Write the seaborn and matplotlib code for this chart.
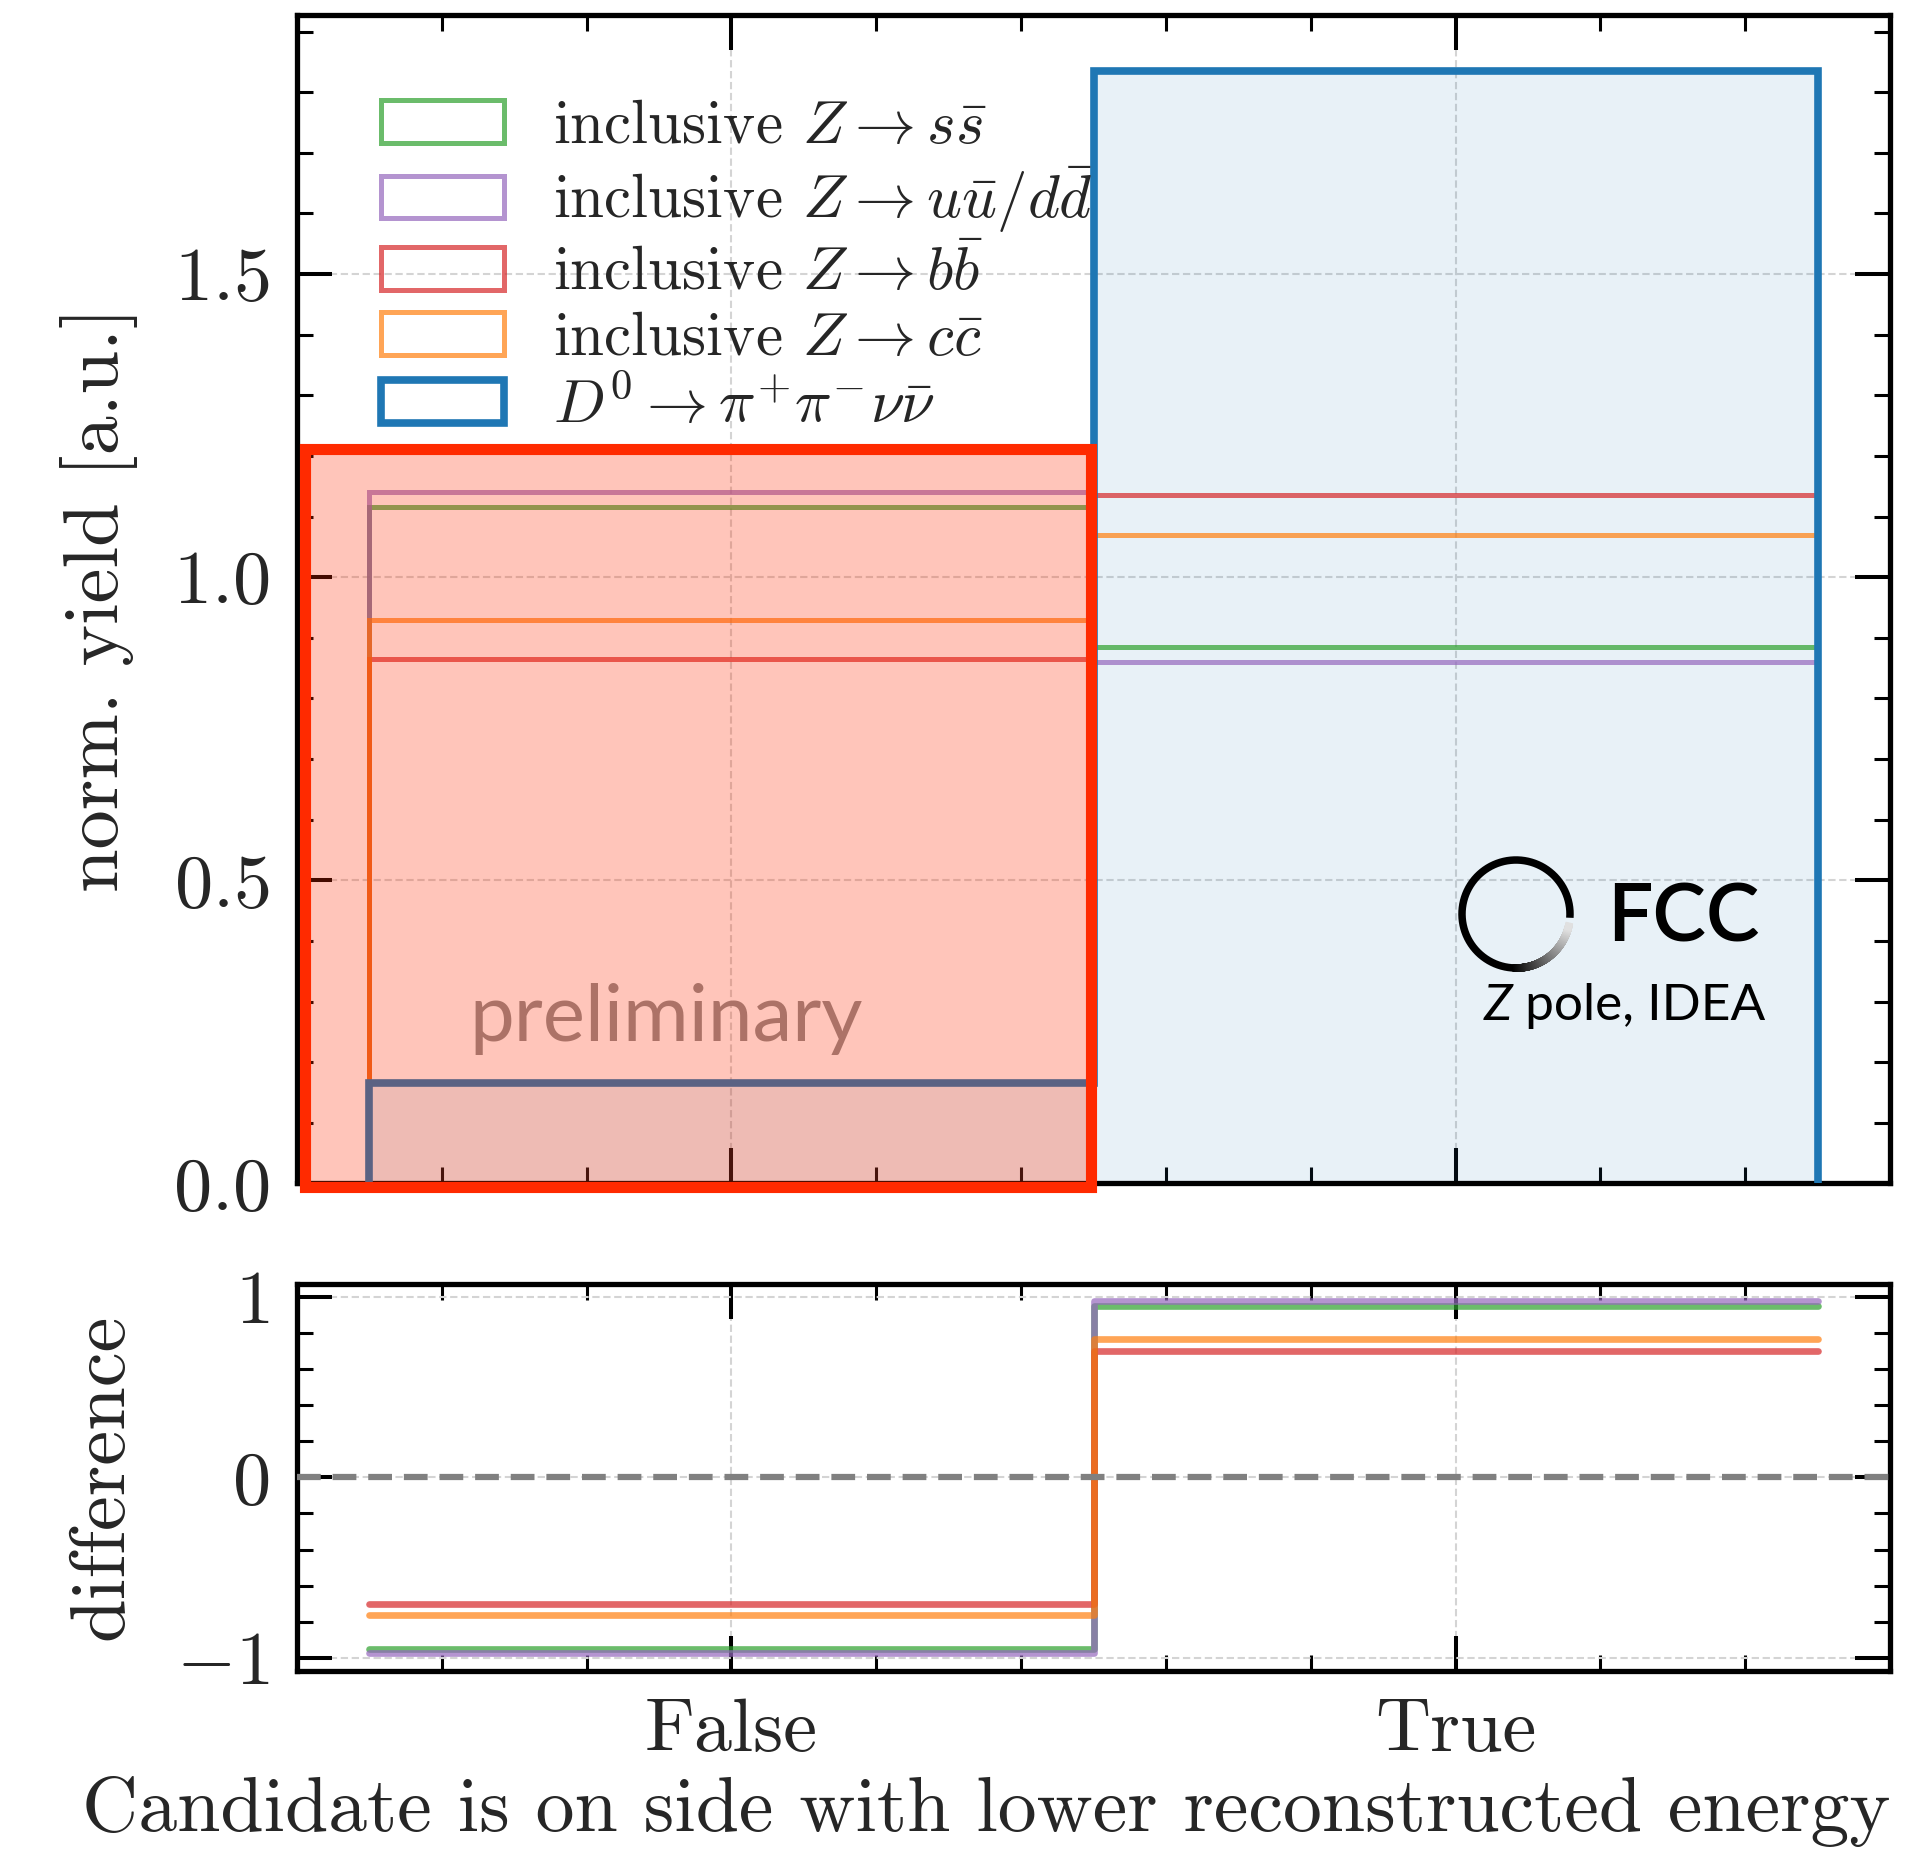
import numpy as np
import matplotlib
matplotlib.use("Agg")
import matplotlib.pyplot as plt
import seaborn as sns
from matplotlib.patches import Patch, Rectangle
from matplotlib.ticker import MultipleLocator, FixedLocator
from matplotlib.colors import to_rgba
from matplotlib.collections import LineCollection

# ---------------- data ----------------
categories = ["False", "True"]
bin_centers = [0, 1]
bin_edges = [-0.5, 0.5, 1.5]

yield_ss = [1.115, 0.885]
yield_uudd = [1.14, 0.86]
yield_bb = [0.865, 1.135]
yield_cc = [0.93, 1.07]
yield_signal = [0.165, 1.835]

bkg_labels = [r"inclusive $Z \rightarrow s\bar{s}$",
              r"inclusive $Z \rightarrow u\bar{u}/d\bar{d}$",
              r"inclusive $Z \rightarrow b\bar{b}$",
              r"inclusive $Z \rightarrow c\bar{c}$"]
signal_label = r"$D^0 \rightarrow \pi^{+}\pi^{-}\nu\bar{\nu}$"
bkg_colors = ["tab:green", "tab:purple", "tab:red", "tab:orange"]
signal_color = "tab:blue"

bkg_yields = [yield_ss, yield_uudd, yield_bb, yield_cc]
diffs = [list(np.array(yield_signal) - np.array(b)) for b in bkg_yields]

# ---------------- style ----------------
sns.set_theme(style="ticks")
plt.rcParams.update({
    "font.family": "serif",
    "font.serif": ["cmr10"],
    "mathtext.fontset": "cm",
    "axes.formatter.use_mathtext": True,
    "axes.linewidth": 3.8,
    "axes.edgecolor": "black",
})

FS = 55
LAB_FS = 56.5
XLAB_FS = 56
LEG_FS = 44

fig = plt.figure(figsize=(19.31, 18.54), dpi=100)
ax1 = fig.add_axes([0.1538, 0.3617, 0.825, 0.630])
ax2 = fig.add_axes([0.1538, 0.0987, 0.825, 0.209])

# ---------------- top panel ----------------
for vals, c in zip(bkg_yields, bkg_colors):
    ax1.stairs(vals, bin_edges, color=c, alpha=0.7, lw=3.6, baseline=0, zorder=3)
ax1.stairs(yield_signal, bin_edges, fill=True, color=signal_color, alpha=0.1, lw=0, zorder=2)
ax1.stairs(yield_signal, bin_edges, color=signal_color, lw=5.5, baseline=0, zorder=4)

ax1.set_xlim(-0.6, 1.6)
ax1.set_ylim(0, 1.05 * max(yield_signal))
ax1.xaxis.set_major_locator(FixedLocator(bin_centers))
ax1.xaxis.set_minor_locator(MultipleLocator(0.2))
ax1.yaxis.set_major_locator(MultipleLocator(0.5))
ax1.yaxis.set_minor_locator(MultipleLocator(0.1))
ax1.tick_params(labelbottom=False)
ax1.set_ylabel("norm. yield [a.u.]", fontsize=LAB_FS)

handles = [Patch(facecolor="none", edgecolor=to_rgba(c, 0.7), lw=3.6) for c in bkg_colors]
handles.append(Patch(facecolor="none", edgecolor=signal_color, lw=5.5))
ax1.legend(handles, bkg_labels + [signal_label], loc="upper left",
           bbox_to_anchor=(0.053, 0.928), frameon=False, fontsize=LEG_FS,
           handlelength=2.0, handleheight=0.7, handletextpad=0.8,
           labelspacing=0.16, borderpad=0, borderaxespad=0)

# preliminary text (under the overlay)
ax1.text(0.108, 0.122, "preliminary", transform=ax1.transAxes, color="#8e8e8e",
         fontsize=57.5, family="Lato", weight="normal", va="baseline", zorder=5)

# red overlay box
ax1.add_patch(Rectangle((-0.589, -0.006), 1.085, 1.218, facecolor=(1, 42 / 255, 0, 0.27),
                        edgecolor="#ff2a00", lw=8, clip_on=False, zorder=10))

# FCC logo
ax1.text(0.8223, 0.2068, "FCC", transform=ax1.transAxes, fontsize=58, family="Lato",
         weight="semibold", va="baseline", ha="left", color="black", zorder=6)
t_pole = ax1.text(0.9215, 0.140, " pole, IDEA", transform=ax1.transAxes, fontsize=37,
                  family="Lato", va="baseline", ha="right", color="black", zorder=6)
ax1.annotate("Z", xy=(0, 0), xycoords=t_pole, fontsize=37, family="Lato", style="italic",
             ha="right", va="bottom", color="black", zorder=6)

logo = fig.add_axes([(1516 - 75) / 1931, 1 - (914 + 75) / 1854, 150 / 1931, 150 / 1854])
logo.set_xlim(-75, 75)
logo.set_ylim(-75, 75)
logo.set_axis_off()
R = 54
th_black = np.deg2rad(np.linspace(-4, 272, 300))
logo.plot(R * np.cos(th_black), R * np.sin(th_black), color="black", lw=5.4,
          solid_capstyle="butt")
th_g = np.deg2rad(np.linspace(270, 347, 120))
pts = np.column_stack([R * np.cos(th_g), R * np.sin(th_g)])
segs = np.stack([pts[:-1], pts[1:]], axis=1)
shade = np.linspace(0.0, 0.88, len(segs))
logo.add_collection(LineCollection(segs, colors=[(s, s, s) for s in shade], lw=5.4,
                                   capstyle="projecting"))

# ---------------- bottom panel ----------------
for d, c in zip(diffs, bkg_colors):
    sns.histplot(x=bin_centers, weights=d, bins=bin_edges, element="step", fill=False,
                 color=c, alpha=0.7, linewidth=4.8, ax=ax2, legend=False, zorder=3)
ax2.axhline(0, color="gray", ls=(0, (3.8, 1.9)), lw=4.5, zorder=4)

ax2.set_xlim(-0.6, 1.6)
lim = 1.1 * max(abs(v) for d in diffs for v in d)
ax2.set_ylim(-lim, lim)
ax2.xaxis.set_major_locator(FixedLocator(bin_centers))
ax2.set_xticklabels(categories)
ax2.xaxis.set_minor_locator(MultipleLocator(0.2))
ax2.yaxis.set_major_locator(FixedLocator([-1, 0, 1]))
ax2.yaxis.set_minor_locator(MultipleLocator(0.2))
ax2.set_ylabel("difference", fontsize=LAB_FS)
ax2.set_xlabel("Candidate is on side with lower reconstructed energy", fontsize=XLAB_FS,
               loc="right", labelpad=7)

for ax in (ax1, ax2):
    ax.tick_params(which="both", direction="in", top=True, right=True,
                   labelsize=FS, color="black")
    ax.tick_params(which="major", length=25, width=2.9, pad=20)
    ax.tick_params(which="minor", length=11.5, width=2.2)
    ax.grid(True, which="major", color="#d4d4d4", ls=(0, (3.5, 1.75)), lw=1.5)
    ax.set_axisbelow(True)
    for sp in ax.spines.values():
        sp.set_linewidth(3.8)
        sp.set_color("black")
    ax.yaxis.set_label_coords(-0.1, 0.5)

fig.savefig("out.png", dpi=100)
